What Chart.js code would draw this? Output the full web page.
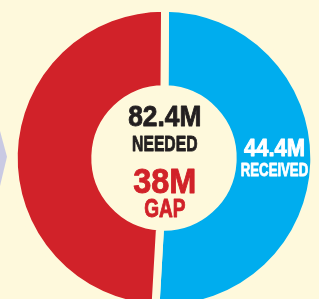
<!DOCTYPE html>
<html>
<head>
<meta charset="utf-8">
<script src="https://cdn.jsdelivr.net/npm/chart.js@4"></script>
<style>
  html, body { margin: 0; padding: 0; background: #fef9dc; }
  #wrap { position: relative; width: 319px; height: 299px; overflow: hidden; background: #fef9dc; }
  #wrap canvas { position: absolute; left: 0; top: 0; }
  /* edge of the neighbouring graphic */
  #chevron { position: absolute; left: 0; top: 131px; width: 7px; height: 55px; background: #c9cae3;
    clip-path: polygon(0 0, 100% 47%, 0 100%); }
</style>
</head>
<body>
<div id="wrap">
  <canvas id="gapChart" width="328" height="316"></canvas>
  <div id="chevron"></div>
</div>
<script>
const categories = ["RECEIVED", "GAP"];
const amounts = [44.4, 38]; // millions
const needed = 82.4; // millions
const arcShares = [50.8, 49.2]; // ring split as drawn in the graphic

const colors = {
  received: "#00adee",
  gap: "#d12229",
  text: "#231f20",
  cream: "#fef9dc",
};

const numFont = "'Liberation Sans', Arial, sans-serif";
const wordFont = "'Liberation Sans Narrow', 'Liberation Sans', Arial, sans-serif";

// draw heavy text centred at x, squeezed/stretched to a given width
function fitText(ctx, text, x, y, size, family, width, color) {
  ctx.save();
  ctx.font = "bold " + size + "px " + family;
  ctx.fillStyle = color;
  ctx.strokeStyle = color;
  ctx.lineWidth = 0.9;
  ctx.lineJoin = "round";
  ctx.textAlign = "center";
  ctx.textBaseline = "alphabetic";
  const w = ctx.measureText(text).width + 0.9;
  ctx.translate(x, y);
  ctx.scale(width / w, 1);
  ctx.fillText(text, 0, 0);
  ctx.strokeText(text, 0, 0);
  ctx.restore();
}

const labelsPlugin = {
  id: "labels",
  afterDraw(chart) {
    const ctx = chart.ctx;
    const arc = chart.getDatasetMeta(0).data[0];
    const cx = arc.x + 0.8;
    const cy = arc.y;
    fitText(ctx, needed + "M", cx, cy - 31.8, 29.5, numFont, 74, colors.text);
    fitText(ctx, "NEEDED", cx, cy - 7, 22.5, wordFont, 66, colors.text);
    fitText(ctx, amounts[1] + "M", cx, cy + 35, 35, numFont, 64, colors.gap);
    fitText(ctx, categories[1], cx, cy + 59, 25.5, wordFont, 42, colors.gap);

    // label in the middle of the received ring
    const mid = (arc.innerRadius + arc.outerRadius) / 2;
    const rx = arc.x + mid + 1;
    fitText(ctx, amounts[0] + "M", rx, cy - 1.8, 23.5, numFont, 62, "#ffffff");
    fitText(ctx, categories[0], rx, cy + 18.2, 18.8, wordFont, 68, "#ffffff");
  },
};

new Chart(document.getElementById("gapChart"), {
  type: "doughnut",
  data: {
    labels: categories,
    datasets: [
      {
        data: arcShares,
        backgroundColor: [colors.received, colors.gap],
        borderColor: colors.cream,
        borderWidth: 8,
      },
    ],
  },
  options: {
    responsive: false,
    animation: false,
    events: [],
    rotation: 0.4,
    radius: 150.3,
    cutout: "45.7%",
    plugins: {
      legend: { display: false },
      tooltip: { enabled: false },
    },
  },
  plugins: [labelsPlugin],
});
</script>
</body>
</html>
